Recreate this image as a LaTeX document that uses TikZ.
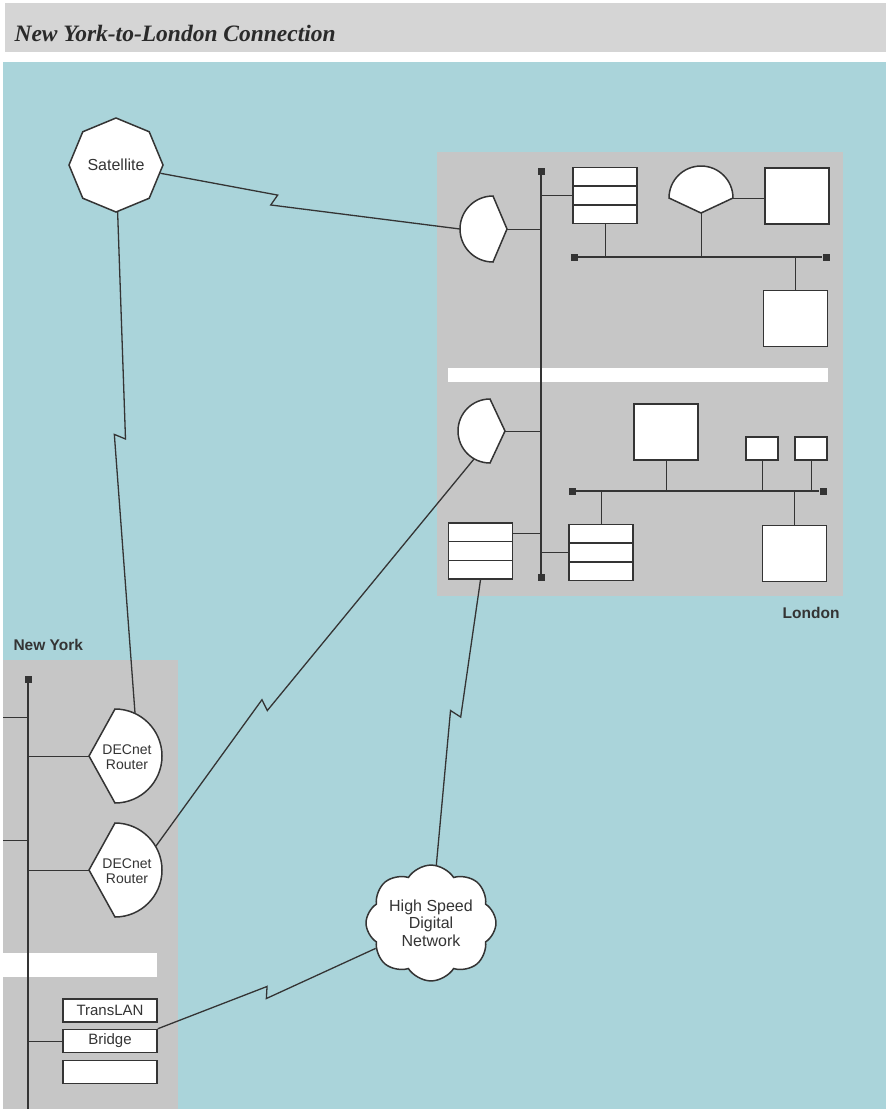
\documentclass[tikz,border=0pt]{standalone}
\usepackage{fontspec}
\setmainfont{Liberation Serif}
\setsansfont{Liberation Sans}
\usetikzlibrary{calc,shapes.geometric,shapes.symbols}
\definecolor{sea}{RGB}{170,212,218}
\definecolor{panel}{RGB}{198,198,198}
\definecolor{band}{RGB}{213,213,213}
\definecolor{ink}{RGB}{52,52,52}

% DEC router symbol: centre, radius, tip distance, tip direction
\newcommand\decrouter[4]{%
  \begin{scope}[shift={(#1)},rotate=#4]
    \draw[dev] (90:#2) arc[start angle=90,end angle=270,radius=#2] -- (0:#3) -- cycle;
  \end{scope}}

\begin{document}
\begin{tikzpicture}[x=1pt,y=1pt,font=\sffamily,
  dev/.style={draw=ink,fill=white,line width=1.5pt},
  box/.style={dev,inner sep=0pt,minimum width=64pt,minimum height=56pt},
  stack/.style={box,path picture={
    \foreach \f in {0.333,0.667}
      \draw[ink,line width=1.4pt]
        ($(path picture bounding box.north west)!\f!(path picture bounding box.south west)$) --
        ($(path picture bounding box.north east)!\f!(path picture bounding box.south east)$);}},
  tag/.style={dev,inner sep=0pt,minimum width=94pt,minimum height=23pt,text=ink,
    font=\sffamily\fontsize{15}{15}\selectfont},
  term/.style={fill=ink,inner sep=0pt,minimum size=7pt},
  bus/.style={draw=ink,line width=2pt},
  stub/.style={draw=ink,line width=1pt},
  link/.style={draw=ink,line width=1.3pt},
  zap/.style={to path={-- ($(\tikztostart)!#1!(\tikztotarget)$)
    -- ($(\tikztostart)!#1!(\tikztotarget)!5pt!180:(\tikztotarget)!11pt!-90:(\tikztotarget)$)
    -- (\tikztotarget) \tikztonodes}},
  place/.style={text=ink,font=\sffamily\bfseries\fontsize{15.5}{15.5}\selectfont}]
  \useasboundingbox (0,0) rectangle (890,-1109);
  % background
  \fill[white] (0,0) rectangle (890,-1109);
  \fill[band] (5,-3) rectangle (886,-52);
  \fill[sea] (3,-62) rectangle (886,-1109);
  \fill[panel] (437,-152) rectangle (843,-596);
  \fill[white] (448,-368) rectangle (828,-382);
  \fill[panel] (3,-660) rectangle (178,-1109);
  \fill[white] (3,-953) rectangle (157,-977);

  \node[anchor=base west,text=ink!80!black,font=\rmfamily\bfseries\itshape\fontsize{23.5}{23.5}\selectfont]
    (title) at (11,-41) {New York-to-London Connection};
  \node[place,anchor=base east] (london) at (843,-618) {London};
  \node[place,anchor=base west] (newyork) at (10,-650) {New York};

  % London backbone
  \node[term] (lbbT) at (541,-171) {};
  \node[term] (lbbB) at (541,-577) {};
  \draw[ink,line width=1.6pt] (lbbT.center) -- (lbbB.center);

  % London upper LAN
  \node[term] (ubW) at (574,-257) {};
  \node[term] (ubE) at (826,-257) {};
  \draw[bus] (ubW) -- (ubE);
  \node[stack] (ls1) at (605,-195.5) {};
  \node[box] (lb1) at (797,-196) {};
  \node[box] (lb2) at (795.5,-318.5) {};
  \decrouter{701,-198}{32}{15}{-90}
  \coordinate (fanS) at (701,-213);
  \coordinate (fanE) at (733,-198);
  \draw[stub] (ls1.south) -- (ls1.south |- ubW);
  \draw[stub] (fanS) -- (fanS |- ubW);
  \draw[stub] (lb2.north) -- (lb2.north |- ubW);
  \draw[stub] (fanE) -- (fanE -| lb1.west);
  \draw[stub] (ls1.west) -- (ls1.west -| lbbT);
  \decrouter{493,-229}{33}{14}{0}
  \coordinate (lr1E) at (507,-229);
  \coordinate (lr1W) at (460,-229);
  \draw[stub] (lr1E) -- (lr1E -| lbbT);

  % London lower LAN
  \node[term] (lbW) at (572,-491) {};
  \node[term] (lbE) at (823,-491) {};
  \draw[bus] (lbW) -- (lbE);
  \node[box] (lb3) at (666,-432) {};
  \node[box,minimum width=32pt,minimum height=23pt] (sb1) at (762,-448.5) {};
  \node[box,minimum width=32pt,minimum height=23pt] (sb2) at (811,-448.5) {};
  \node[stack] (ls2) at (601,-552.5) {};
  \node[box] (lb4) at (794.5,-553.5) {};
  \node[stack] (ls3) at (480.5,-551) {};
  \foreach \b in {lb3,sb1,sb2}
    \draw[stub] (\b.south) -- (\b.south |- lbW);
  \foreach \b in {ls2,lb4}
    \draw[stub] (\b.north) -- (\b.north |- lbW);
  \draw[stub] (ls2.west) -- (ls2.west -| lbbT);
  \coordinate (ls3E) at ([yshift=-11pt]ls3.north east);
  \draw[stub] (ls3E) -- (ls3E -| lbbT);
  \decrouter{490,-431}{32}{15}{0}
  \coordinate (lr2E) at (505,-431);
  \coordinate (lr2SW) at (474,-459);
  \draw[stub] (lr2E) -- (lr2E -| lbbT);

  % New York
  \node[term] (nbbT) at (28,-679) {};
  \coordinate (nbbB) at (28,-1109);
  \draw[ink,line width=1.6pt] (nbbT.center) -- (nbbB);
  \foreach \y in {717,840}
    \draw[stub] (3,-\y) -- (28,-\y);
  \decrouter{115,-756}{47}{26}{180}
  \decrouter{115,-870}{47}{26}{180}
  \node[text=ink,align=center,font=\sffamily\fontsize{14}{14.5}\selectfont]
    (nr1) at (127,-757) {DECnet\\Router};
  \node[text=ink,align=center,font=\sffamily\fontsize{14}{14.5}\selectfont]
    (nr2) at (127,-871) {DECnet\\Router};
  \coordinate (nr1W) at (89,-756);
  \coordinate (nr1N) at (135,-713);
  \coordinate (nr2W) at (89,-870);
  \coordinate (nr2NE) at (156,-846);
  \draw[stub] (nr1W) -- (nr1W -| nbbT);
  \draw[stub] (nr2W) -- (nr2W -| nbbT);
  \node[tag] (translan) at (110,-1010.5) {TransLAN};
  \node[tag] (bridge) at (110,-1041) {Bridge};
  \node[tag] (spare) at (110,-1072) {};
  \draw[stub] (bridge.west) -- (bridge.west -| nbbT);

  % satellite and digital network
  \node[dev,regular polygon,regular polygon sides=8,shape border rotate=22.5,
    minimum size=94pt,inner sep=0pt,text=ink,font=\sffamily\fontsize{16}{16}\selectfont]
    (sat) at (116,-165) {Satellite};
  \node[dev,cloud,cloud puffs=8,cloud puff arc=115,aspect=1.2,minimum width=120pt,
    minimum height=100pt,inner sep=0pt,align=center,text=ink,
    font=\sffamily\fontsize{16}{17.5}\selectfont]
    (hsdn) at (431,-923) {High Speed\\Digital\\Network};

  % long-haul links
  \draw[link] (sat) to[zap=0.47] (lr1W);
  \draw[link] (sat) to[zap=0.5] (nr1N);
  \draw[link] (lr2SW) to[zap=0.65] (nr2NE);
  \draw[link] (ls3.south) to[zap=0.4] (hsdn);
  \draw[link] (bridge.north east) to[zap=0.4] (hsdn);
\end{tikzpicture}
\end{document}
